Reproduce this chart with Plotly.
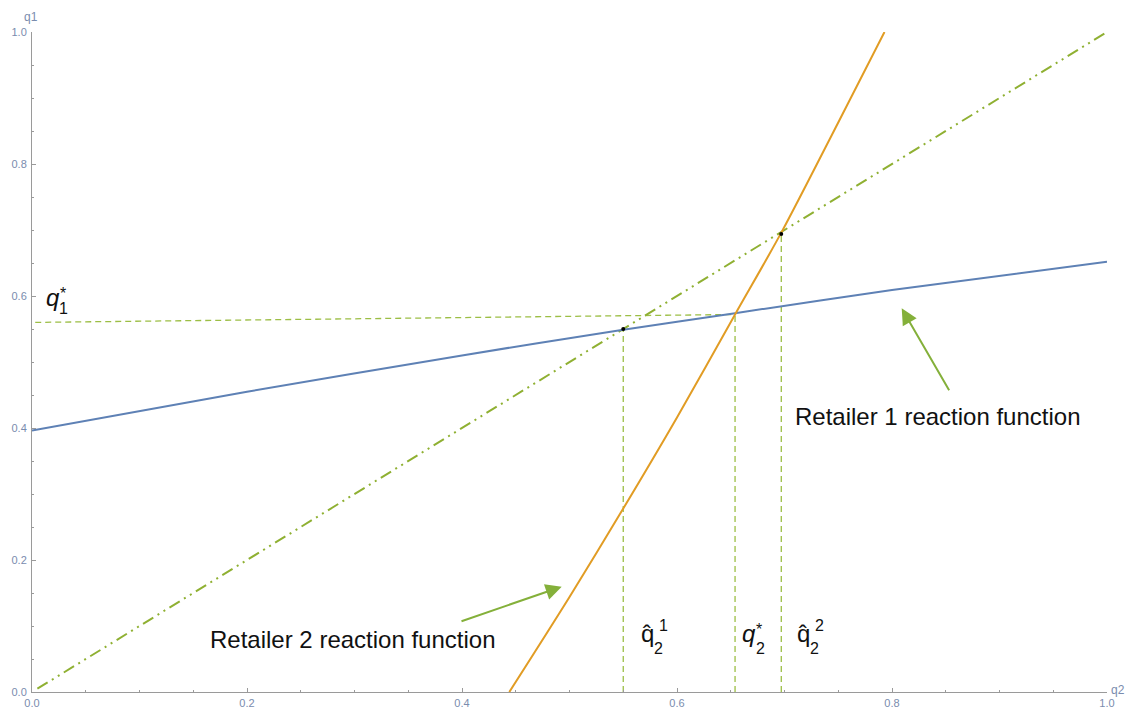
import plotly.graph_objects as go

# ---- data ----
# Retailer 1 reaction function (q1 as a function of q2)
r1_q2 = [0.0, 0.2, 0.4, 0.55, 0.654, 0.8, 1.0]
r1_q1 = [0.396, 0.455, 0.510, 0.549, 0.574, 0.609, 0.652]

# Retailer 2 reaction function
r2_q2 = [0.444, 0.5, 0.55, 0.6, 0.654, 0.697, 0.75, 0.793]
r2_q1 = [0.0, 0.144, 0.278, 0.416, 0.572, 0.696, 0.863, 1.0]

# 45-degree line q1 = q2
diag_q2 = [0.005, 1.0]
diag_q1 = [0.005, 1.0]

# marked points
pts_q2 = [0.55, 0.697]
pts_q1 = [0.55, 0.694]

# guide lines (dashed)
q1_star_q2 = [0.003, 0.654]
q1_star_q1 = [0.560, 0.572]
q2_hat1 = 0.55
q2_star = 0.654
q2_hat2 = 0.697
guide_top = [0.55, 0.572, 0.694]

tick_vals = [0.0, 0.2, 0.4, 0.6, 0.8, 1.0]
tick_text = ["0.0", "0.2", "0.4", "0.6", "0.8", "1.0"]

BLUE = "#5E81B5"
ORANGE = "#E19C24"
GREEN = "#8FB032"
DASHG = "#9CBE45"
ARROWG = "#84B03A"
LABEL = "#7A8CAE"
AXIS = "#9A9A9A"

W, H = 1131, 709
L, R, T, B = 32, 24, 32, 17
PW, PH = W - L - R, H - T - B


def px(xp, yp):
    """pixel position -> data coordinates (for text placement only)"""
    return (xp - L) / PW, (H - B - yp) / PH


fig = go.Figure()

# dashed guide lines
fig.add_trace(go.Scatter(x=q1_star_q2, y=q1_star_q1, mode="lines",
                         line=dict(color=DASHG, width=1.3, dash="6px,4px"),
                         hoverinfo="skip", showlegend=False))
for xv, top in zip([q2_hat1, q2_star, q2_hat2], guide_top):
    fig.add_trace(go.Scatter(x=[xv, xv], y=[0, top], mode="lines",
                             line=dict(color=DASHG, width=1.3, dash="6px,4px"),
                             hoverinfo="skip", showlegend=False))

# diagonal dash-dot-dot line
fig.add_trace(go.Scatter(x=diag_q2, y=diag_q1, mode="lines",
                         line=dict(color=GREEN, width=2,
                                   dash="12px,5px,2px,5px,2px,5px"),
                         showlegend=False))

# reaction functions
fig.add_trace(go.Scatter(x=r1_q2, y=r1_q1, mode="lines",
                         line=dict(color=BLUE, width=2, shape="spline",
                                   smoothing=0.8),
                         name="Retailer 1", showlegend=False))
fig.add_trace(go.Scatter(x=r2_q2, y=r2_q1, mode="lines",
                         line=dict(color=ORANGE, width=2, shape="spline",
                                   smoothing=0.8),
                         name="Retailer 2", showlegend=False))

# points
fig.add_trace(go.Scatter(x=pts_q2, y=pts_q1, mode="markers",
                         marker=dict(color="black", size=4),
                         showlegend=False))

ann = []

# arrows
h1 = px(901.7, 308.3); t1 = px(950, 391.7)
h2 = px(561.7, 586.7); t2 = px(460, 621.7)
for h, t in [(h1, t1), (h2, t2)]:
    ann.append(dict(x=h[0], y=h[1], ax=t[0], ay=t[1], xref="x", yref="y",
                    axref="x", ayref="y", showarrow=True, arrowhead=2,
                    arrowsize=1.6, arrowwidth=2, arrowcolor=ARROWG, text=""))

TXT = dict(family="Liberation Sans, Arial, sans-serif", color="#111111")


def text(xp, yp, s, size, anchor="left", italic=False):
    x, y = px(xp, yp)
    f = dict(TXT); f["size"] = size
    if italic:
        s = "<i>" + s + "</i>"
    ann.append(dict(x=x, y=y, xref="x", yref="y", text=s, showarrow=False,
                    xanchor=anchor, yanchor="middle", font=f))


text(937.5, 416, "Retailer 1 reaction function", 24, "center")
text(353, 639, "Retailer 2 reaction function", 24, "center")

# q1*
text(44, 297, "q", 24, italic=True)
text(57, 308, "1", 16)
text(58, 293, "*", 16)

# q2 hat 1
text(639, 633, "q\u0302", 24)
text(652, 648, "2", 16)
text(657, 625, "1", 16)

# q2 star
text(740, 633, "q", 24, italic=True)
text(754, 648, "2", 16)
text(754, 629, "*", 16)

# q2 hat 2
text(795, 633, "q\u0302", 24)
text(808, 648, "2", 16)
text(813, 625, "2", 16)

# axis labels
ann.append(dict(x=0, y=1, xref="paper", yref="paper", text="q1", showarrow=False,
                xanchor="center", yanchor="bottom", yshift=6, xshift=-1,
                font=dict(family="Liberation Sans, Arial", size=12, color=LABEL)))
ann.append(dict(x=1, y=0, xref="paper", yref="paper", text="q2", showarrow=False,
                xanchor="left", yanchor="middle", xshift=2, yshift=2,
                font=dict(family="Liberation Sans, Arial", size=12, color=LABEL)))

axis_common = dict(range=[0, 1], showgrid=False, zeroline=False, showline=True,
                   linecolor=AXIS, linewidth=1, ticks="inside", ticklen=4,
                   tickcolor=AXIS, tickwidth=1, tickvals=tick_vals,
                   ticktext=tick_text, automargin=False,
                   tickfont=dict(family="Liberation Sans, Arial", size=11,
                                 color=LABEL),
                   minor=dict(ticks="inside", ticklen=2, dtick=0.05,
                              tickcolor=AXIS, showgrid=False),
                   fixedrange=True)

fig.update_layout(
    width=W, height=H,
    margin=dict(l=L, r=R, t=T, b=B, pad=0, autoexpand=False),
    paper_bgcolor="white", plot_bgcolor="white",
    xaxis=dict(axis_common),
    yaxis=dict(axis_common),
    annotations=ann,
    showlegend=False,
)
fig.update_xaxes(ticklabelstandoff=1)
fig.update_yaxes(ticklabelstandoff=2)

fig.write_html(
    "out.html",
    config={"displayModeBar": False},
    post_script="document.body.style.margin='0';"
                "document.body.style.overflow='hidden';",
)
